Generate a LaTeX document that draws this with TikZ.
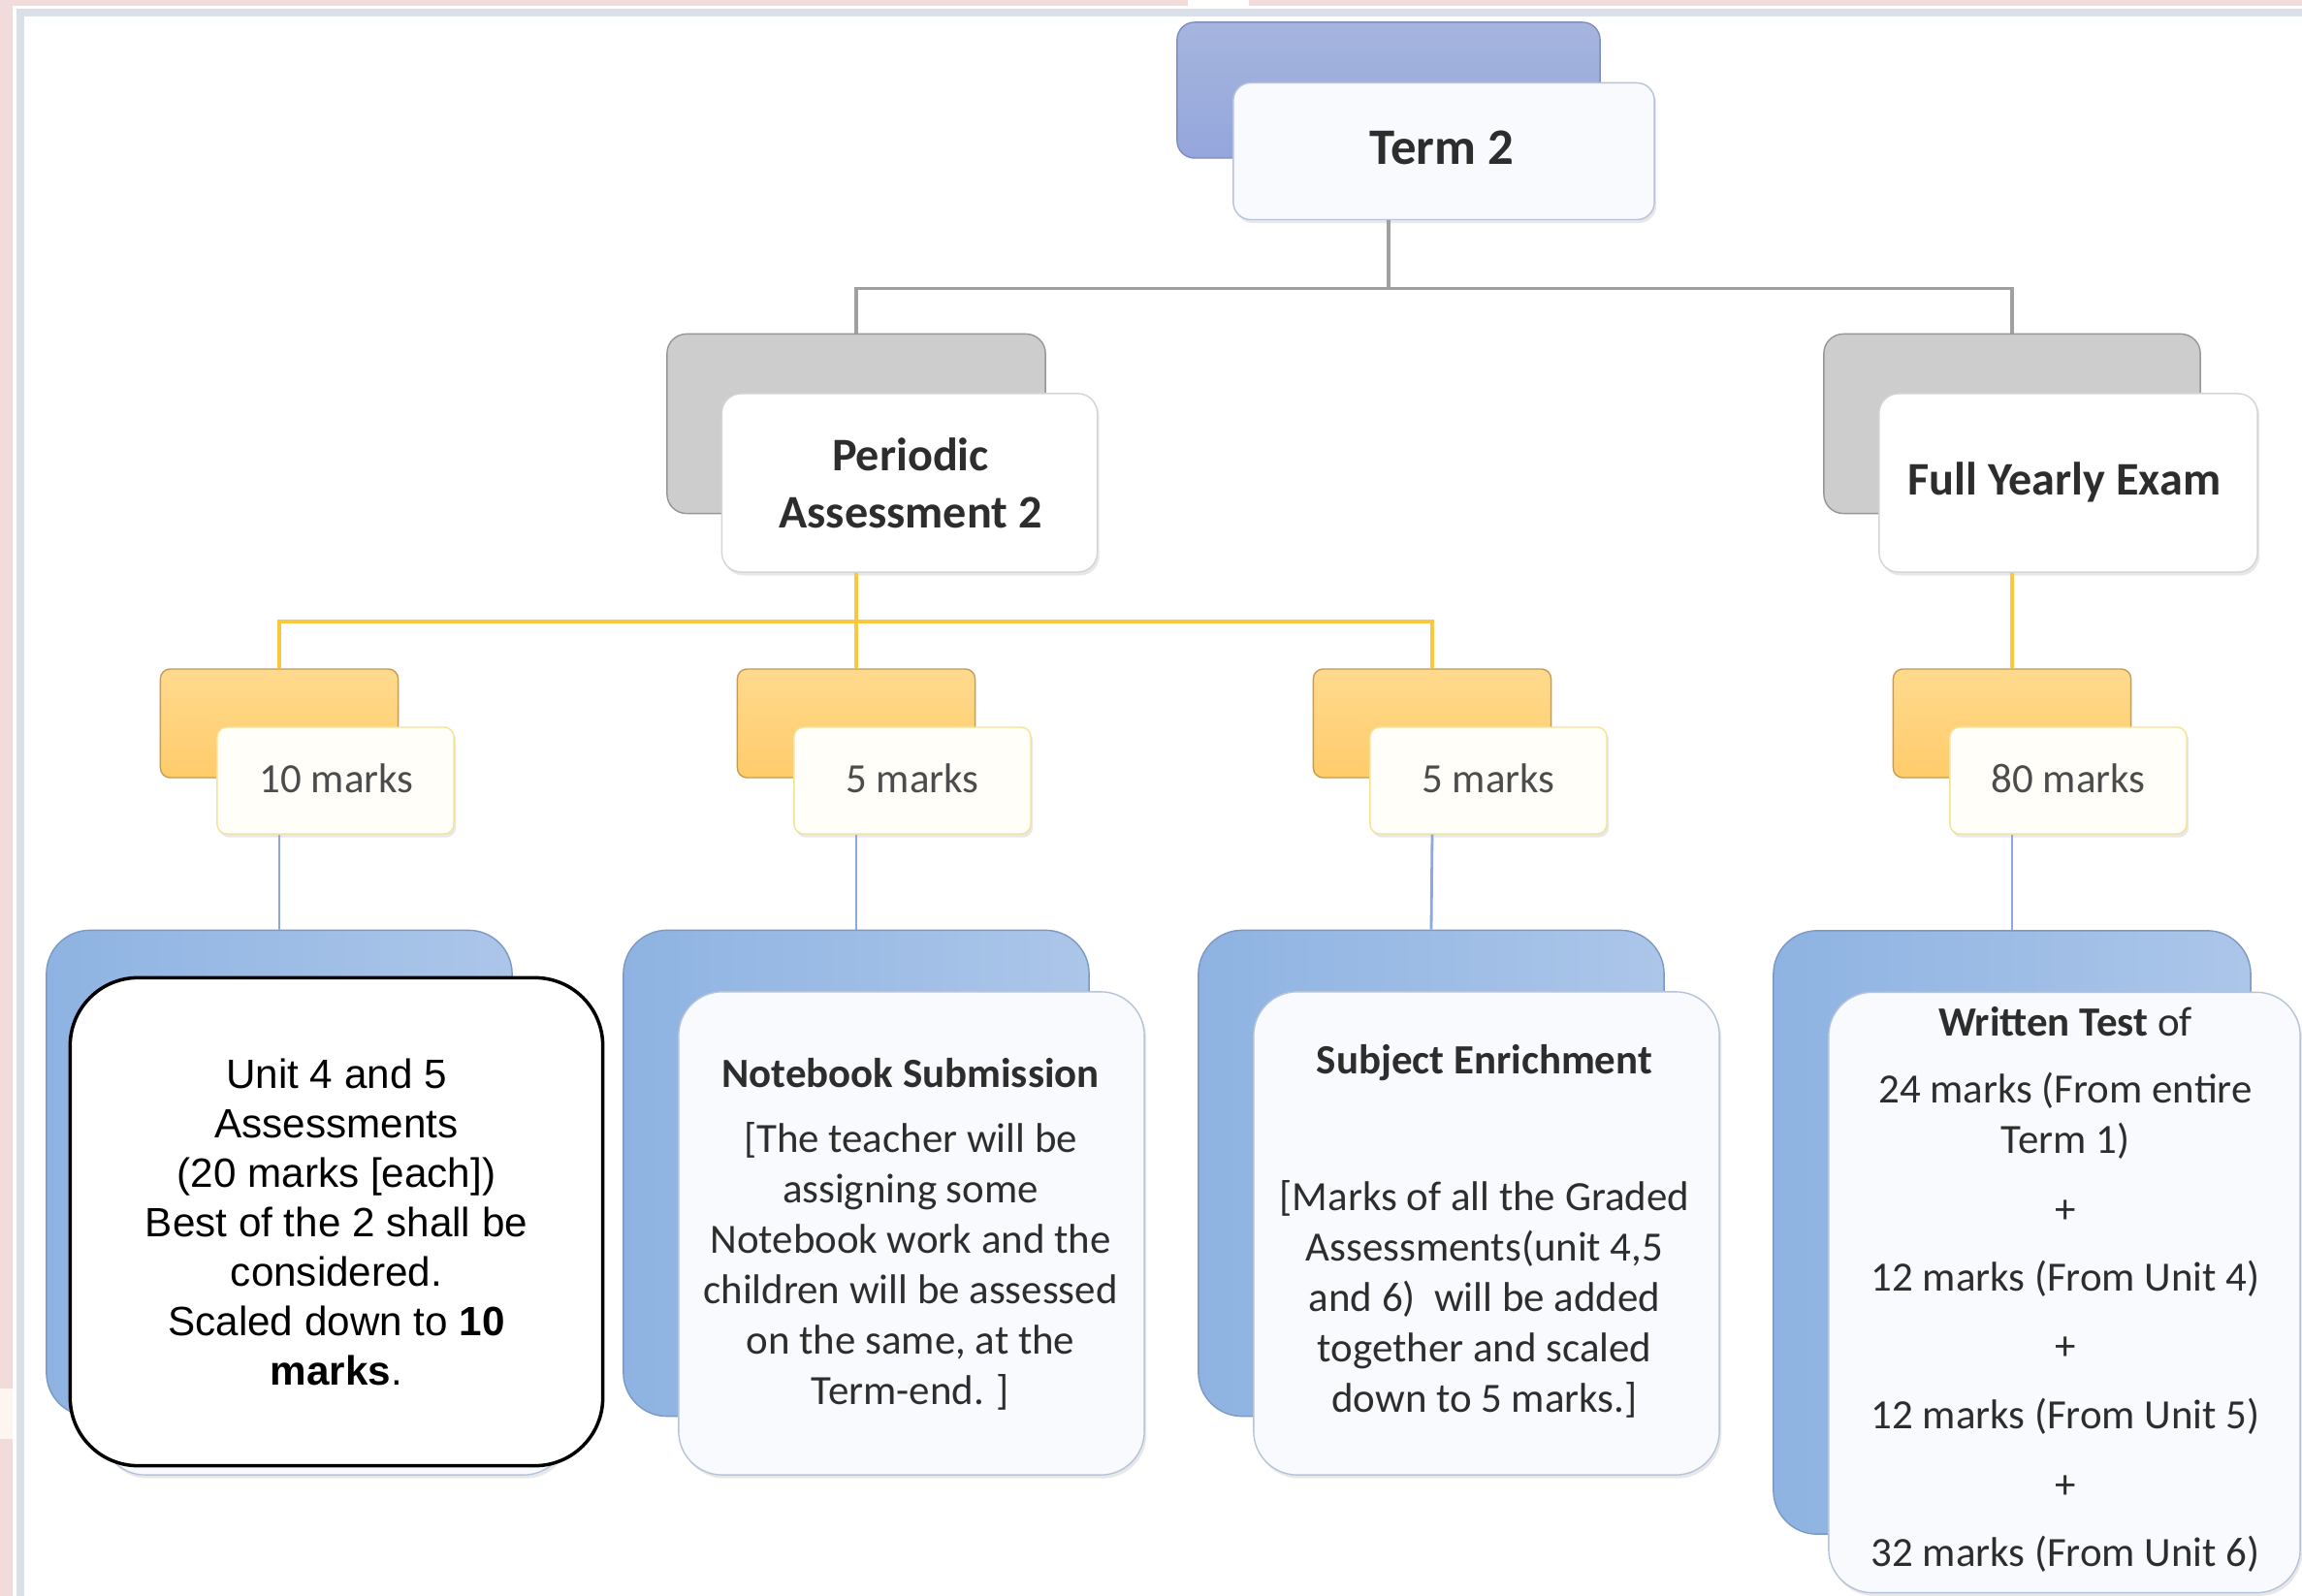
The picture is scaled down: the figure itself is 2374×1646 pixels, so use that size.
\documentclass[tikz,border=0pt]{standalone}
\usepackage{fontspec}
\setmainfont{Carlito}
\newfontfamily\arialfont{Liberation Sans}
\usetikzlibrary{positioning, shadows}
\definecolor{framepink}{RGB}{242,220,219}
\definecolor{framecream}{RGB}{253,246,238}
\definecolor{frameline}{RGB}{218,224,234}
\definecolor{frontfill}{RGB}{248,250,253}
\definecolor{termtop}{RGB}{166,181,222}
\definecolor{termbot}{RGB}{148,166,220}
\definecolor{termedge}{RGB}{128,142,190}
\definecolor{termrim}{RGB}{184,194,222}
\definecolor{greyback}{RGB}{205,205,205}
\definecolor{greyedge}{RGB}{150,150,150}
\definecolor{greyrim}{RGB}{212,212,212}
\definecolor{goldtop}{RGB}{255,218,142}
\definecolor{goldbot}{RGB}{255,204,106}
\definecolor{goldedge}{RGB}{196,156,86}
\definecolor{goldrim}{RGB}{244,226,150}
\definecolor{goldfill}{RGB}{255,254,248}
\definecolor{goldline}{RGB}{250,200,60}
\definecolor{blueback}{RGB}{172,198,233}
\definecolor{bluedeep}{RGB}{142,179,226}
\definecolor{blueedge}{RGB}{124,152,196}
\definecolor{bluerim}{RGB}{182,196,218}
\definecolor{blueline}{RGB}{140,170,215}
\definecolor{linkgrey}{RGB}{160,160,160}
\definecolor{textgrey}{RGB}{45,45,45}

\begin{document}
\begin{tikzpicture}[x=0.01cm, y=-0.01cm,
    frontbox/.style={fill=frontfill, rounded corners=#1, inner sep=0pt,
      drop shadow={shadow xshift=0.6pt, shadow yshift=-1pt, opacity=0.18}},
    greylink/.style={linkgrey, line width=0.9pt},
    goldlink/.style={goldline, line width=1.1pt},
    bluelink/.style={blueline, line width=0.8pt},
    headtext/.style={textgrey, font=\bfseries\fontsize{15}{18}\selectfont},
    subtext/.style={textgrey, align=center, font=\bfseries\fontsize{13.7}{16.8}\selectfont},
    marktext/.style={textgrey!85!white, font=\fontsize{12.2}{14.8}\selectfont},
    bodytext/.style={textgrey, align=center, font=\fontsize{12.2}{14.8}\selectfont}]

    % Page and frame
    \fill[white] (0,0) rectangle (2374,1646);
    \useasboundingbox (0,0) rectangle (2374,1646);
    \fill[framepink] (0,0) rectangle (2374,6);
    \fill[framepink] (0,0) rectangle (13,1646);
    \fill[white] (1225,0) rectangle (1288,6);
    \fill[framecream] (0,1432) rectangle (13,1484);
    \draw[frameline, line width=2pt] (21,1646) -- (21,13) -- (2374,13);

    % Term 2
    \node[draw=termedge, top color=termtop, bottom color=termbot, rounded corners=0.18cm,
      minimum width=4.36cm, minimum height=1.40cm] (t2back) at (1432,93) {};
    \node[frontbox=0.18cm, draw=termrim, minimum width=4.34cm, minimum height=1.41cm] (t2front) at (1489,156) {};
    \node[headtext] (t2text) at (1487,152) {Term 2};

    % Second row
    \node[draw=greyedge, fill=greyback, rounded corners=0.2cm,
      minimum width=3.90cm, minimum height=1.85cm] (pa2back) at (883,437) {};
    \node[frontbox=0.2cm, draw=greyrim, fill=white, minimum width=3.87cm, minimum height=1.84cm] (pa2front) at (938,498) {};
    \node[subtext] (pa2text) at (939,498) {Periodic\\Assessment 2};

    \node[draw=greyedge, fill=greyback, rounded corners=0.2cm,
      minimum width=3.88cm, minimum height=1.85cm] (fyeback) at (2075,437) {};
    \node[frontbox=0.2cm, draw=greyrim, fill=white, minimum width=3.90cm, minimum height=1.84cm] (fyefront) at (2133,498) {};
    \node[subtext] (fyetext) at (2129,497) {Full Yearly Exam};

    % Term 2 to second row
    \draw[greylink] (t2back.center |- t2front.south) -- ++(0,70) coordinate (t2hub);
    \draw[greylink] (t2hub) -| (pa2back.north);
    \draw[greylink] (t2hub) -| (fyeback.north);

    % Marks row
    \node[draw=goldedge, top color=goldtop, bottom color=goldbot, rounded corners=0.1cm,
      minimum width=2.45cm, minimum height=1.12cm] (m1back) at (288,746) {};
    \node[frontbox=0.1cm, draw=goldrim, fill=goldfill, minimum width=2.44cm, minimum height=1.10cm] (m1front) at (346,805) {};
    \node[marktext] (m1text) at (347,803) {10 marks};

    \node[draw=goldedge, top color=goldtop, bottom color=goldbot, rounded corners=0.1cm,
      minimum width=2.45cm, minimum height=1.12cm] (m2back) at (883,746) {};
    \node[frontbox=0.1cm, draw=goldrim, fill=goldfill, minimum width=2.44cm, minimum height=1.10cm] (m2front) at (941,805) {};
    \node[marktext] (m2text) at (941,803) {5 marks};

    \node[draw=goldedge, top color=goldtop, bottom color=goldbot, rounded corners=0.1cm,
      minimum width=2.45cm, minimum height=1.12cm] (m3back) at (1477,746) {};
    \node[frontbox=0.1cm, draw=goldrim, fill=goldfill, minimum width=2.44cm, minimum height=1.10cm] (m3front) at (1535,805) {};
    \node[marktext] (m3text) at (1535,803) {5 marks};

    \node[draw=goldedge, top color=goldtop, bottom color=goldbot, rounded corners=0.1cm,
      minimum width=2.45cm, minimum height=1.12cm] (m4back) at (2075,746) {};
    \node[frontbox=0.1cm, draw=goldrim, fill=goldfill, minimum width=2.44cm, minimum height=1.10cm] (m4front) at (2133,805) {};
    \node[marktext] (m4text) at (2133,803) {80 marks};

    % Second row to marks
    \draw[goldlink] (pa2back.center |- pa2front.south) -- ++(0,50) coordinate (pa2hub);
    \draw[goldlink] (pa2hub) -| (m1back.north);
    \draw[goldlink] (pa2hub) -| (m3back.north);
    \draw[goldlink] (pa2hub) -- (m2back.north);
    \draw[goldlink] (fyeback.center |- fyefront.south) -- (m4back.north);

    % Detail boxes
    \node[draw=blueedge, left color=bluedeep, right color=blueback, rounded corners=0.45cm,
      minimum width=4.80cm, minimum height=5.01cm] (d1back) at (288,1210) {};
    \node[frontbox=0.45cm, draw=bluerim, minimum width=4.80cm, minimum height=4.98cm] (d1front) at (345,1272) {};

    \node[draw=blueedge, left color=bluedeep, right color=blueback, rounded corners=0.45cm,
      minimum width=4.80cm, minimum height=5.01cm] (d2back) at (883,1210) {};
    \node[frontbox=0.45cm, draw=bluerim, minimum width=4.80cm, minimum height=4.98cm] (d2front) at (940,1272) {};
    \node[bodytext, font=\bfseries\fontsize{12.2}{14.8}\selectfont] (d2title) at (939,1107) {Notebook Submission};
    \node[bodytext] (d2body) at (939,1306) {[The teacher will be\\assigning some\\Notebook work and the\\children will be assessed\\on the same, at the\\Term-end. ]};

    \node[draw=blueedge, left color=bluedeep, right color=blueback, rounded corners=0.45cm,
      minimum width=4.80cm, minimum height=5.01cm] (d3back) at (1476,1210) {};
    \node[frontbox=0.45cm, draw=bluerim, minimum width=4.80cm, minimum height=4.98cm] (d3front) at (1533,1272) {};
    \node[bodytext, font=\bfseries\fontsize{12.2}{14.8}\selectfont] (d3title) at (1531,1096) {Subject Enrichment};
    \node[bodytext] (d3body) at (1531,1340) {[Marks of all the Graded\\Assessments(unit 4,5\\and 6)~~will be added\\together and scaled\\down to 5 marks.]};

    \node[draw=blueedge, left color=bluedeep, right color=blueback, rounded corners=0.45cm,
      minimum width=4.92cm, minimum height=6.22cm] (d4back) at (2075,1271) {};
    \node[frontbox=0.45cm, draw=bluerim, minimum width=4.86cm, minimum height=6.19cm] (d4front) at (2129,1333) {};
    \node[bodytext] (d4body) at (2130,1330) {\textbf{Written Test} of\\[4.8pt]
      24 marks (From entire\\Term 1)\\[5.6pt] +\\[5pt] 12 marks (From Unit 4)\\[5.4pt] +\\[5.6pt]
      12 marks (From Unit 5)\\[5.6pt] +\\[5pt] 32 marks (From Unit 6)};

    % Marks to detail boxes
    \draw[bluelink] (m1back.center |- m1front.south) -- (d1back.north);
    \draw[bluelink] (m2back.center |- m2front.south) -- (d2back.north);
    \draw[bluelink] (m3back.center |- m3front.south) -- (d3back.north);
    \draw[bluelink] (m4back.center |- m4front.south) -- (d4back.north);

    % Note laid over the first detail box
    \node[draw=black, line width=1pt, fill=white, rounded corners=0.7cm,
      minimum width=5.49cm, minimum height=5.03cm, align=center,
      font=\arialfont\fontsize{12}{14.5}\selectfont] (unitnote) at (347,1260)
      {Unit 4 and 5\\Assessments\\(20 marks [each])\\Best of the 2 shall be\\considered.\\Scaled down to \textbf{10}\\\textbf{marks}.};
\end{tikzpicture}
\end{document}
